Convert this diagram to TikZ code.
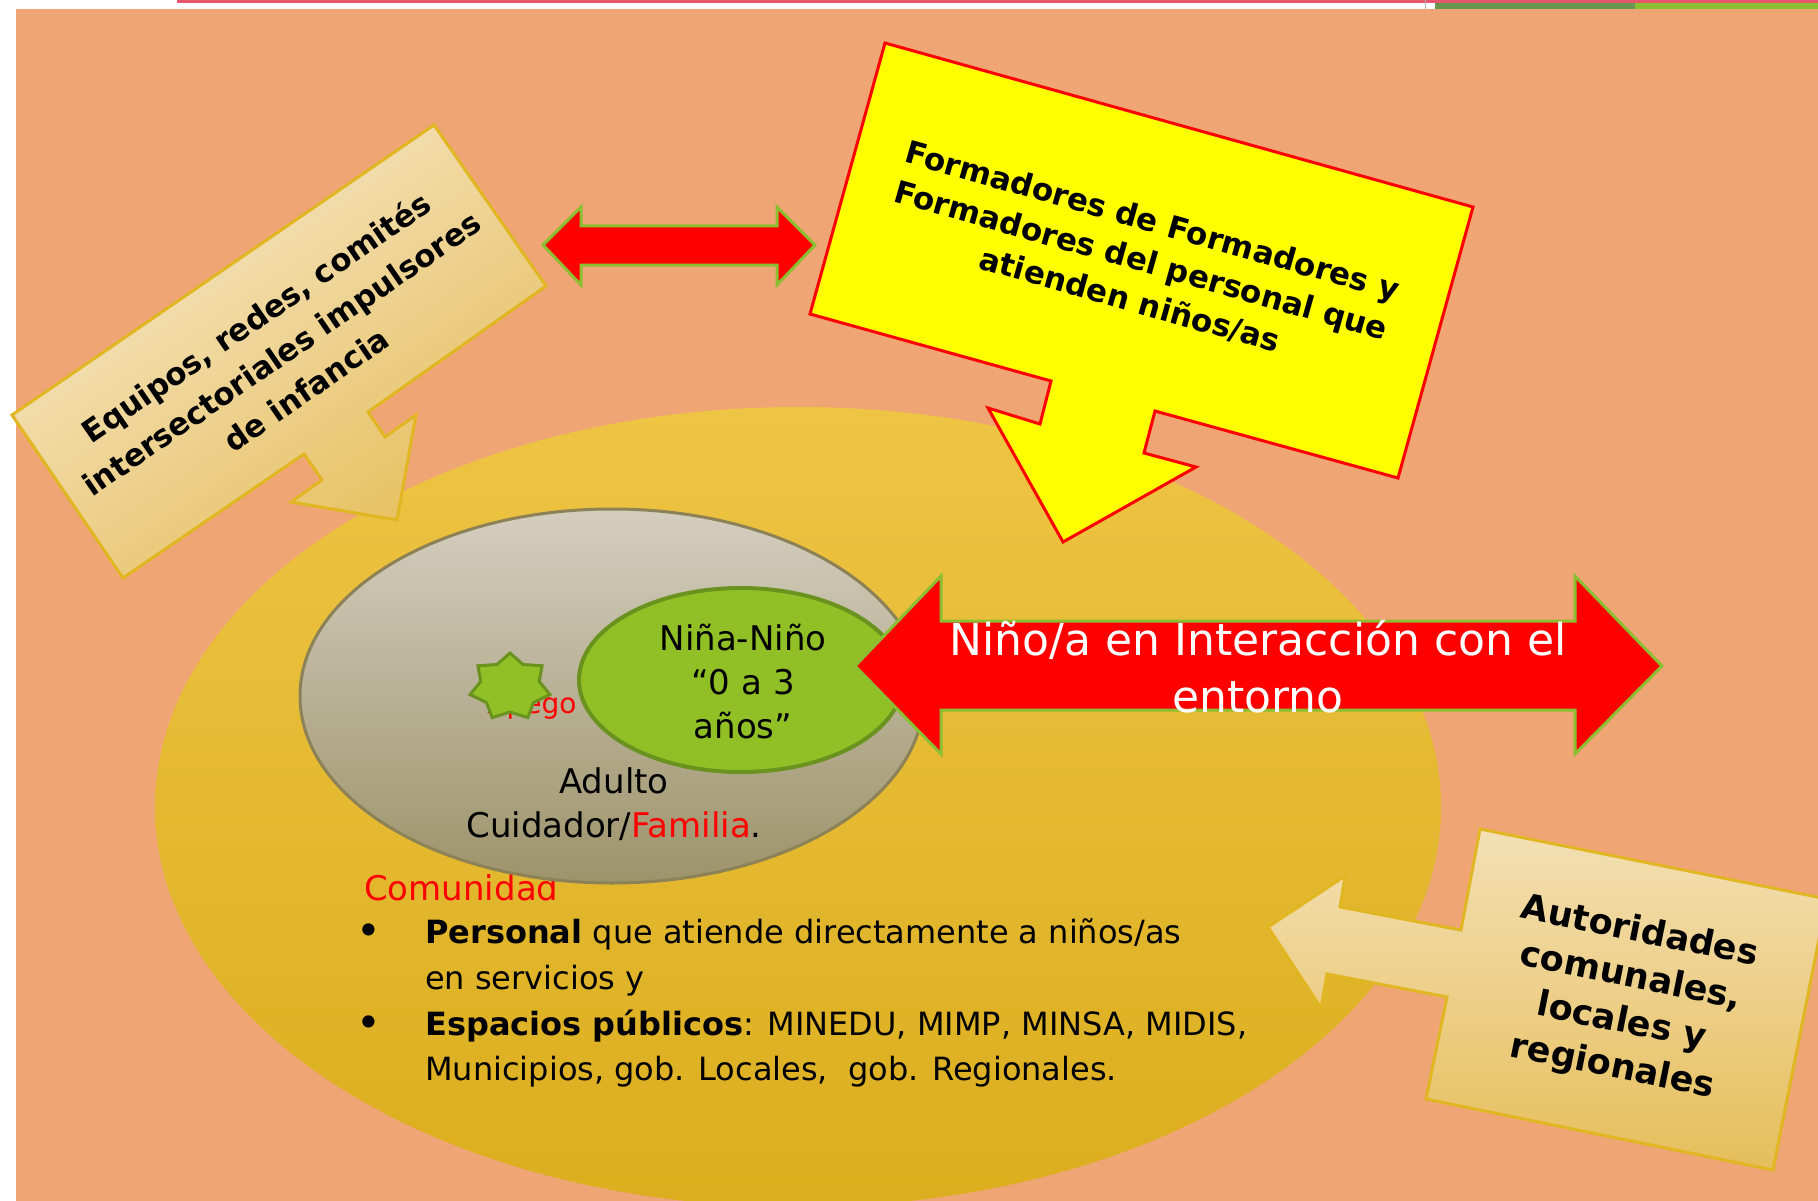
\documentclass[tikz,border=0pt]{standalone}
\usepackage{fontspec}
\setmainfont{DejaVu Sans}
\definecolor{bgorange}{RGB}{240,165,116}
\definecolor{ellTop}{RGB}{238,196,68}
\definecolor{ellBot}{RGB}{219,174,30}
\definecolor{greyTop}{RGB}{212,206,191}
\definecolor{greyBot}{RGB}{157,147,107}
\definecolor{greyLine}{RGB}{140,130,85}
\definecolor{leafGreen}{RGB}{145,192,38}
\definecolor{leafLine}{RGB}{106,146,30}
\definecolor{arrowLine}{RGB}{140,190,50}
\definecolor{creamLight}{RGB}{246,232,203}
\definecolor{creamDark}{RGB}{230,190,90}
\definecolor{goldLine}{RGB}{225,182,35}
\definecolor{pinkLine}{RGB}{232,86,110}
\definecolor{barDark}{RGB}{104,150,78}
\definecolor{barLight}{RGB}{140,190,50}
\definecolor{pureYellow}{RGB}{255,255,0}
\definecolor{pureRed}{RGB}{255,0,0}
\begin{document}
\begin{tikzpicture}[x=1pt,y=-1pt,
  redarrow/.style={fill=pureRed, draw=arrowLine, line width=3pt, line join=miter},
  calloutbox/.style={draw=goldLine, line width=3pt, line join=miter},
  yellowbox/.style={fill=pureYellow, draw=pureRed, line width=3pt, line join=miter},
  boldtxt/.style={align=center, inner sep=0pt},
  bodytxt/.style={font=\fontsize{32}{44}\selectfont, inner sep=0pt, anchor=base west},
  bullettxt/.style={font=\fontsize{42}{44}\selectfont, inner sep=0pt, anchor=base},
  midtxt/.style={font=\fontsize{34}{44}\selectfont, inner sep=0pt, anchor=base}
]
\useasboundingbox (0,0) rectangle (1818,1201);
\clip (0,0) rectangle (1818,1201);
% background
\fill[white] (0,0) rectangle (1818,1201);
\fill[bgorange] (16,9) rectangle (1818,1201);
\fill[pinkLine] (177,0) rectangle (1818,3);
\draw[gray!60, line width=1pt] (1425,0) -- (1425,9);
\fill[barDark] (1435,3) rectangle (1635,9);
\fill[barLight] (1635,3) rectangle (1818,9);

% community ellipse
\path[top color=ellTop, bottom color=ellBot] (798,807) ellipse (643pt and 400pt);

% community text
\node[font=\fontsize{34}{44}\selectfont, text=pureRed, inner sep=0pt, anchor=base west] (comunidad) at (364,900) {Comunidad};
\node[bullettxt] (b1) at (369,945) {•};
\node[bodytxt] (l1) at (425,943) {\textbf{Personal} que atiende directamente a niños/as};
\node[bodytxt] (l2) at (425,989) {en servicios y};
\node[bullettxt] (b2) at (369,1037) {•};
\node[bodytxt] (l3) at (425,1035) {\textbf{Espacios públicos}: MINEDU, MIMP, MINSA, MIDIS,};
\node[bodytxt] (l4) at (425,1080) {Municipios, gob. Locales,\ \ gob. Regionales.};

% family ellipse
\path[top color=greyTop, bottom color=greyBot, draw=greyLine, line width=3pt] (612,696) ellipse (312pt and 187pt);
\node[font=\fontsize{28}{34}\selectfont, text=pureRed, inner sep=0pt, anchor=base] (apego) at (532,713) {Apego};
\draw[fill=leafGreen, draw=leafLine, line width=3pt, line join=miter]
  plot[samples at={0,...,13}, variable=\k]
  ({510+ifthenelse(mod(\k,2)==0,41,30)*cos(90+\k*360/14)},
   {687-ifthenelse(mod(\k,2)==0,34,25)*sin(90+\k*360/14)}) -- cycle;
\node[midtxt] (adulto) at (614,793) {Adulto};
\node[midtxt] (cuidador) at (614,837) {Cuidador/\textcolor{pureRed}{Familia}.};

% child ellipse
\path[fill=leafGreen, draw=leafLine, line width=4pt] (741,680) ellipse (162pt and 92pt);
\node[midtxt] (nina) at (743,650) {Niña-Niño};
\node[midtxt] (edad) at (743,694) {“0 a 3};
\node[midtxt] (anos) at (743,738) {años”};

% interaction arrow
\draw[redarrow] (855,666) -- (941,576) -- (941,621) -- (1575,621) -- (1575,576) -- (1662,666)
  -- (1575,754) -- (1575,710) -- (941,710) -- (941,754) -- cycle;
\node[font=\fontsize{44}{57}\selectfont, text=white, inner sep=0pt, anchor=base] (inter1) at (1258,655) {Niño/a en Interacción con el};
\node[font=\fontsize{44}{57}\selectfont, text=white, inner sep=0pt, anchor=base] (inter2) at (1258,712) {entorno};

% top double arrow
\draw[redarrow] (543,245) -- (581,207) -- (581,226) -- (777,226) -- (777,207) -- (815,245)
  -- (777,285) -- (777,265) -- (581,265) -- (581,285) -- cycle;

% Equipos callout
\draw[calloutbox, top color=creamLight, bottom color=creamDark, shading angle=34.5]
  (12,415) -- (434,125) -- (546,286) -- (368,412) -- (385,437) -- (416,415) -- (397,520)
  -- (291,502) -- (322,480) -- (304,454) -- (123,578) -- cycle;
\node[boldtxt, rotate=34.5, font=\bfseries\fontsize{30.8}{44}\selectfont] (equipos) at (281,353)
  {Equipos, redes, comités\\intersectoriales impulsores\\de infancia};

% Formadores callout
\draw[yellowbox]
  (885,43) -- (1473,207) -- (1398,478) -- (1155,411) -- (1144,453) -- (1196,467) -- (1063,542)
  -- (988,408) -- (1040,424) -- (1051,381) -- (810,314) -- cycle;
\node[boldtxt, rotate=-15.8, font=\bfseries\fontsize{31}{41}\selectfont] (formadores) at (1141,261)
  {Formadores de Formadores y\\Formadores del personal que\\atienden niños/as};

% Autoridades callout
\draw[calloutbox, top color=creamLight!80!creamDark, bottom color=creamDark]
  (1480,829) -- (1827,899) -- (1773,1170) -- (1426,1099) -- (1447,997) -- (1327,974) -- (1321,1008)
  -- (1268,927) -- (1345,876) -- (1340,907) -- (1461,930) -- cycle;
\node[boldtxt, rotate=-11.4, font=\bfseries\fontsize{35}{46}\selectfont] (autoridades) at (1626,1000)
  {Autoridades\\comunales,\\locales y\\regionales};
\end{tikzpicture}
\end{document}
